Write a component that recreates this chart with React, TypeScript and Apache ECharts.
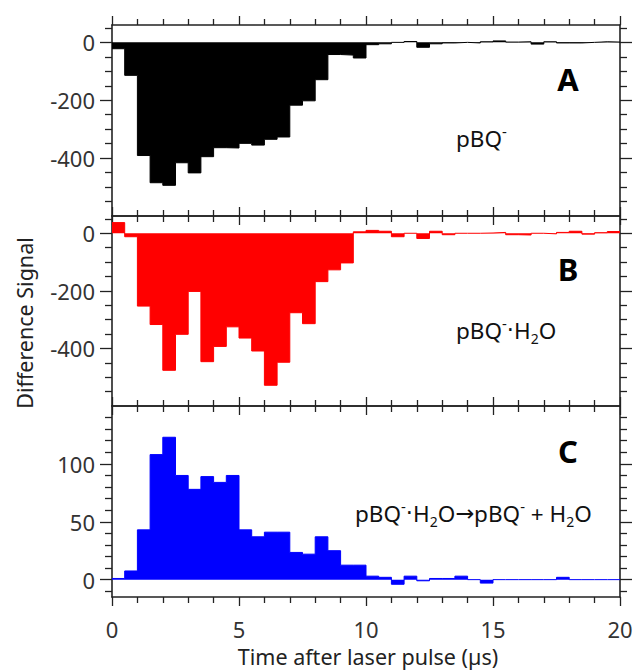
import { useEffect, useRef } from 'react';
import * as echarts from 'echarts';

// Histogram bins: 0.5 µs wide, starting at t = 0
const BIN_WIDTH = 0.5;
const X_MIN = 0;
const X_MAX = 20;
const X_INTERVAL = 5;

// Panel A: pBQ-
const SIGNAL_A = [
  -22, -114, -391, -485, -494, -416, -451, -395, -364, -365,
  -349, -355, -335, -327, -217, -202, -129, -42, -44, -54,
  -8, -5, 0, 3, -17, -5, -2, 0, -2, 2,
  5, 1, 2, -6, 2, -2, -2, 0, 2, 1,
];

// Panel B: pBQ-·H2O
const SIGNAL_B = [
  37, -12, -253, -317, -476, -351, -202, -446, -393, -325,
  -364, -409, -528, -448, -276, -314, -168, -127, -103, 5,
  10, 7, -12, 0, -18, 7, -5, 0, 0, 1,
  3, -5, -6, 0, -2, 3, 7, -3, 2, 6,
];

// Panel C: pBQ-·H2O -> pBQ- + H2O
const SIGNAL_C = [
  1, 7.5, 43, 108, 123, 90, 78, 89, 84, 90,
  43, 37, 41, 41, 23.5, 22, 37, 25, 12.5, 12.5,
  3, 2, -4, 3, -1, 1, 1, 3, 0, -3,
  0, 0, 0, 0, 0, 2, 0, 0, 0, 0,
];

// Y-axis ranges and ticks
const AB_RANGE = [-600, 60];
const C_RANGE = [-15, 150];
const AB_MAJOR_TICKS = [-400, -200, 0];
const AB_MINOR_TICKS = [-550, -500, -450, -350, -300, -250, -150, -100, -50, 50];
const C_MAJOR_TICKS = [0, 50, 100];
const C_MINOR_TICKS = [-10, 10, 20, 30, 40, 60, 70, 80, 90, 110, 120, 130, 140];

const PANEL_LETTERS = ['A', 'B', 'C'];
const PANEL_COLORS = ['#000000', '#ff0000', '#0000ff'];
const X_TITLE = 'Time after laser pulse (µs)';
const Y_TITLE = 'Difference Signal';

const FONT = '"Noto Sans", "Open Sans", sans-serif';
const AXIS_COLOR = '#222';

const GRIDS = [
  { left: 112, width: 508, top: 25, height: 191 },
  { left: 112, width: 508, top: 216, height: 190 },
  { left: 112, width: 508, top: 406, height: 191 },
];

function toSteps(values: number[]) {
  const pts: number[][] = values.map((v, i) => [i * BIN_WIDTH, v]);
  pts.push([values.length * BIN_WIDTH, values[values.length - 1]]);
  return pts;
}

export default function App() {
  const ref = useRef<HTMLDivElement>(null);

  useEffect(() => {
    if (!ref.current) return;
    const chart = echarts.init(ref.current, null, { renderer: 'svg' });

    const lineStyle = { color: AXIS_COLOR, width: 1.6 };
    const tickStyle = { color: AXIS_COLOR, width: 1.3 };

    const xAxes: any[] = [];
    const yAxes: any[] = [];
    const series: any[] = [];

    const signals = [SIGNAL_A, SIGNAL_B, SIGNAL_C];
    const ranges = [AB_RANGE, AB_RANGE, C_RANGE];
    const majors = [AB_MAJOR_TICKS, AB_MAJOR_TICKS, C_MAJOR_TICKS];
    const minors = [AB_MINOR_TICKS, AB_MINOR_TICKS, C_MINOR_TICKS];

    for (let g = 0; g < 3; g++) {
      for (const position of ['bottom', 'top']) {
        const showLabel = g === 2 && position === 'bottom';
        xAxes.push({
          type: 'value',
          gridIndex: g,
          position,
          min: X_MIN,
          max: X_MAX,
          interval: X_INTERVAL,
          axisLine: { show: true, onZero: false, lineStyle },
          axisTick: { show: true, inside: false, length: 9, lineStyle: tickStyle },
          minorTick: { show: true, splitNumber: 5, length: 6, lineStyle: tickStyle },
          splitLine: { show: false },
          minorSplitLine: { show: false },
          axisLabel: showLabel
            ? { show: true, margin: 21, fontSize: 22, color: '#333', fontFamily: FONT }
            : { show: false },
        });
      }
      for (const position of ['left', 'right']) {
        const showLabel = position === 'left';
        yAxes.push({
          type: 'value',
          gridIndex: g,
          position,
          min: ranges[g][0],
          max: ranges[g][1],
          axisLine: { show: true, onZero: false, lineStyle },
          axisTick: { show: true, inside: false, length: 12, customValues: majors[g], lineStyle: tickStyle },
          splitLine: { show: false },
          axisLabel: showLabel
            ? { show: true, customValues: majors[g], margin: 17, fontSize: 22, color: '#333', fontFamily: FONT }
            : { show: false },
        });
        yAxes.push({
          type: 'value',
          gridIndex: g,
          position,
          min: ranges[g][0],
          max: ranges[g][1],
          axisLine: { show: false, onZero: false },
          axisTick: { show: true, inside: false, length: 7, customValues: minors[g], lineStyle: tickStyle },
          splitLine: { show: false },
          axisLabel: { show: false },
        });
      }
      series.push({
        type: 'line',
        xAxisIndex: g * 2,
        yAxisIndex: g * 4,
        step: 'end',
        symbol: 'none',
        data: toSteps(signals[g]),
        lineStyle: { color: PANEL_COLORS[g], width: 1 },
        itemStyle: { color: PANEL_COLORS[g] },
        areaStyle: { color: PANEL_COLORS[g], opacity: 1 },
        z: 1,
      });
    }

    const annStyle = (text: string) => ({
      text,
      fontSize: 22.5,
      fontFamily: FONT,
      fill: '#111',
      lineHeight: 30,
      align: 'left',
      verticalAlign: 'middle',
      rich: {
        sup: { fontSize: 15, lineHeight: 15, verticalAlign: 'top', fill: '#111', fontFamily: FONT },
        sub: { fontSize: 14, lineHeight: 14, verticalAlign: 'bottom', fill: '#111', fontFamily: FONT },
        arr: { fontSize: 22.5, lineHeight: 30, fill: '#111', fontFamily: '"DejaVu Sans", sans-serif' },
        dot: { fontSize: 22.5, lineHeight: 30, fill: '#111', fontFamily: '"DejaVu Sans", sans-serif' },
      },
    });

    const letterCenters = [79, 269, 451];

    const graphic: any[] = [
      ...PANEL_LETTERS.map((letter, i) => ({
        type: 'text',
        x: 568,
        y: letterCenters[i],
        style: {
          text: letter,
          fontSize: 31,
          fontWeight: 'bold',
          fontFamily: FONT,
          fill: '#000',
          align: 'center',
          verticalAlign: 'middle',
        },
      })),
      { type: 'text', x: 456, y: 138, style: annStyle('pBQ{sup|-}') },
      { type: 'text', x: 456, y: 330, style: annStyle('pBQ{sup|-}{dot|·}H{sub|2}O') },
      { type: 'text', x: 355, y: 513, style: annStyle('pBQ{sup|-}{dot|·}H{sub|2}O{arr|→}pBQ{sup|-} + H{sub|2}O') },
      {
        type: 'text',
        x: 368,
        y: 656,
        style: { text: X_TITLE, fontSize: 21.5, fontFamily: FONT, fill: '#222', align: 'center', verticalAlign: 'middle' },
      },
      {
        type: 'text',
        x: 24,
        y: 323,
        rotation: Math.PI / 2,
        style: { text: Y_TITLE, fontSize: 21.5, fontFamily: FONT, fill: '#222', align: 'center', verticalAlign: 'middle' },
      },
    ];

    chart.setOption({
      animation: false,
      backgroundColor: '#fff',
      grid: GRIDS.map((g) => ({ ...g, containLabel: false, outerBoundsMode: 'none' })),
      xAxis: xAxes,
      yAxis: yAxes,
      series,
      graphic,
    });

    return () => {
      chart.dispose();
    };
  }, []);

  return (
    <div
      ref={ref}
      style={{ position: 'fixed', left: 0, top: 0, width: 636, height: 672 }}
    />
  );
}
